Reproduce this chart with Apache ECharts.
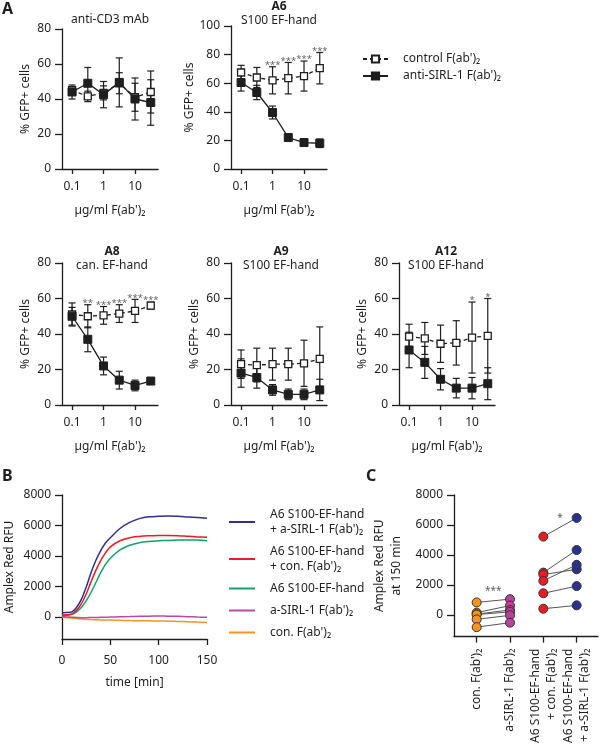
<!DOCTYPE html>
<html><head><meta charset="utf-8">
<script src="https://cdn.jsdelivr.net/npm/echarts@6/dist/echarts.min.js"></script>
<style>html,body{margin:0;padding:0;background:#fff}#c{width:600px;height:746px}</style>
</head><body><div id="c"></div>
<script>
// ---------- DATA ----------
const conc = [0.1, 0.316, 1, 3.16, 10, 31.6];
const concTicks = [0.1, 1, 10];
const concTickLabels = ['0.1', '1', '10'];
const ctrlName = "control F(ab')\u2082";
const sirlName = "anti-SIRL-1 F(ab')\u2082";

const a1Ctrl = [45, 41.5, 43.5, 49, 41, 44];
const a1CtrlSd = [2, 3, 4, 6, 8, 12];
const a1Sirl = [44, 49, 42.5, 49.5, 40, 38];
const a1SirlSd = [4, 9, 7.5, 14, 12, 13];

const a6Ctrl = [67.5, 64, 62, 63.5, 65, 70.5];
const a6CtrlSd = [5, 7, 9.5, 11, 10.5, 11];
const a6Sirl = [60.5, 53.5, 39.5, 22, 18.5, 18];
const a6SirlSd = [6, 5, 4.5, 1, 1.5, 3];
const a6Stars = ['', '', '***', '***', '***', '***'];

const a8Ctrl = [51, 50, 50.5, 51.5, 53, 56];
const a8CtrlSd = [6.5, 6.5, 5, 5, 6.5, 2];
const a8Sirl = [50, 37, 22, 14, 11, 13.5];
const a8SirlSd = [5, 7, 5, 5, 3, 1.5];
const a8Stars = ['', '**', '***', '***', '***', '***'];

const a9Ctrl = [23, 22.5, 23, 23, 23.5, 26];
const a9CtrlSd = [8, 9.5, 9, 9, 13, 18];
const a9Sirl = [18, 15.5, 8.5, 6, 6, 8.5];
const a9SirlSd = [8, 6, 3, 3, 3, 6];

const a12Ctrl = [38.5, 37.5, 34.5, 35, 38, 39];
const a12CtrlSd = [7, 9, 10.5, 12.5, 20, 21];
const a12Sirl = [31, 24, 14.5, 9.5, 9.5, 12];
const a12SirlSd = [10, 9, 6, 5.5, 6, 9];
const a12Stars = ['', '', '', '', '*', '*'];

// Panel B
const bTime = [0,5,10,15,20,25,30,35,40,45,50,60,70,80,90,100,110,120,130,140,150];
const bA6Sirl = [280,290,330,620,1150,1950,2900,3700,4350,4850,5200,5800,6200,6450,6570,6600,6620,6600,6560,6520,6470];
const bA6Con  = [130,140,200,430,850,1500,2300,3050,3700,4200,4600,5000,5200,5280,5320,5340,5350,5330,5290,5250,5220];
const bA6     = [100,110,150,330,620,1050,1600,2250,2900,3450,3850,4400,4700,4870,4950,4990,5020,5040,5050,5040,5000];
const bSirl   = [20,0,-20,-40,-50,-50,-45,-40,-30,-20,-10,10,25,40,50,55,50,35,15,-10,-30];
const bCon    = [-30,-50,-80,-110,-140,-160,-175,-185,-195,-205,-210,-225,-240,-250,-260,-270,-280,-295,-315,-340,-360];
const bNames = ["A6 S100-EF-hand\n+ a-SIRL-1 F(ab')\u2082", "A6 S100-EF-hand\n+ con. F(ab')\u2082", "A6 S100-EF-hand", "a-SIRL-1 F(ab')\u2082", "con. F(ab')\u2082"];
const rfuTicks = [0, 2000, 4000, 6000, 8000];
const timeTicks = [0, 50, 100, 150];

// Panel C
const cCategories = ["con. F(ab')\u2082", "a-SIRL-1 F(ab')\u2082", "A6 S100-EF-hand\n+ con. F(ab')\u2082", "A6 S100-EF-hand\n+ a-SIRL-1 F(ab')\u2082"];
const cConF   = [830, 150, 50, 20, -300, -820];
const cSirlF  = [1050, 620, 330, 200, -30, -520];
const cA6Con  = [5225, 2820, 2690, 2275, 1440, 410];
const cA6Sirl = [6470, 4330, 3040, 3340, 1920, 635];
const cStars = [[0.5, 1550, '***'], [2.5, 6450, '*']];

// ---------- STYLE / LAYOUT ----------
const FONT = 'Noto Sans';
const INK = '#1e1e1e';
const COL = {blue:'#2b3190', red:'#ec1c24', green:'#12a06a', purple:'#b54aa8', orange:'#f7941d'};
const lg = v => Math.log10(v);
const X_MIN = -1.32, X_MAX = 1.73;
const plain = v => String(v);

const panelsA = [
  {ctrl:a1Ctrl, ctrlSd:a1CtrlSd, sirl:a1Sirl, sirlSd:a1SirlSd, stars:null, yMax:80, grid:{left:62, top:29, width:96, height:140}},
  {ctrl:a6Ctrl, ctrlSd:a6CtrlSd, sirl:a6Sirl, sirlSd:a6SirlSd, stars:a6Stars, yMax:100, grid:{left:231, top:26, width:96, height:143}},
  {ctrl:a8Ctrl, ctrlSd:a8CtrlSd, sirl:a8Sirl, sirlSd:a8SirlSd, stars:a8Stars, yMax:80, grid:{left:62, top:263, width:96, height:142}},
  {ctrl:a9Ctrl, ctrlSd:a9CtrlSd, sirl:a9Sirl, sirlSd:a9SirlSd, stars:null, yMax:80, grid:{left:231, top:263, width:96, height:142}},
  {ctrl:a12Ctrl, ctrlSd:a12CtrlSd, sirl:a12Sirl, sirlSd:a12SirlSd, stars:a12Stars, yMax:80, grid:{left:399, top:263, width:96, height:142}}
];

const grids = [], xAxes = [], yAxes = [], series = [];
const txt = {fontFamily: FONT, fontSize: 12, color: INK};
const axLine = {show:true, onZero:false, lineStyle:{color:INK, width:1.3}};

function errRender(params, api) {
  const x = api.value(0), m = api.value(1), s = api.value(2);
  const t = api.coord([x, m + s]), b = api.coord([x, m - s]);
  const w = 3.5, st = {stroke: INK, lineWidth: 1.2};
  return {type:'group', children:[
    {type:'line', shape:{x1:t[0], y1:t[1], x2:b[0], y2:b[1]}, style:st},
    {type:'line', shape:{x1:t[0]-w, y1:t[1], x2:t[0]+w, y2:t[1]}, style:st},
    {type:'line', shape:{x1:b[0]-w, y1:b[1], x2:b[0]+w, y2:b[1]}, style:st}
  ]};
}

panelsA.forEach((p, i) => {
  grids.push(p.grid);
  xAxes.push({type:'value', gridIndex:i, min:X_MIN, max:X_MAX,
    name:"\u00b5g/ml F(ab')\u2082", nameLocation:'middle', nameGap:36, nameTextStyle:txt,
    axisLine:axLine, splitLine:{show:false},
    axisTick:{customValues:concTicks.map(lg), length:5, lineStyle:{color:INK, width:1.3}},
    axisLabel:{customValues:concTicks.map(lg), margin:12, ...txt,
      formatter: v => concTickLabels[concTicks.findIndex(c => Math.abs(lg(c) - v) < 1e-6)]}
  });
  yAxes.push({type:'value', gridIndex:i, min:0, max:p.yMax, interval:20,
    name:'% GFP+ cells', nameLocation:'middle', nameGap:30, nameRotate:90, nameTextStyle:txt,
    axisLine:axLine, splitLine:{show:false},
    axisTick:{length:7, lineStyle:{color:INK, width:1.3}},
    axisLabel:{margin:11, ...txt}
  });
  const errData = [];
  conc.forEach((c, k) => { errData.push([lg(c), p.ctrl[k], p.ctrlSd[k]]); errData.push([lg(c), p.sirl[k], p.sirlSd[k]]); });
  series.push({type:'custom', xAxisIndex:i, yAxisIndex:i, renderItem:errRender, data:errData, z:1, silent:true});
  series.push({type:'line', name:ctrlName, xAxisIndex:i, yAxisIndex:i, z:3,
    data: conc.map((c, k) => [lg(c), p.ctrl[k]]),
    symbol:'rect', symbolSize:7, showSymbol:true,
    lineStyle:{color:INK, width:1.3, type:[4,3]},
    itemStyle:{color:'#fff', borderColor:INK, borderWidth:1.3}});
  series.push({type:'line', name:sirlName, xAxisIndex:i, yAxisIndex:i, z:4,
    data: conc.map((c, k) => [lg(c), p.sirl[k]]),
    symbol:'rect', symbolSize:8,
    lineStyle:{color:INK, width:1.3},
    itemStyle:{color:INK, borderColor:INK, borderWidth:1}});
  if (p.stars) {
    const sd = [];
    conc.forEach((c, k) => { if (p.stars[k]) sd.push([lg(c), Math.max(p.ctrl[k] + p.ctrlSd[k], p.sirl[k] + p.sirlSd[k]), p.stars[k]]); });
    series.push({type:'scatter', xAxisIndex:i, yAxisIndex:i, data:sd, symbolSize:1, itemStyle:{color:'rgba(0,0,0,0)'}, silent:true, z:5,
      label:{show:true, position:'top', distance:-4, formatter: q => q.value[2], fontFamily:FONT, fontSize:9.5, color:'#333'}});
  }
});

// Panel B (grid 5)
grids.push({left:62, top:495, width:145, height:144});
xAxes.push({type:'value', gridIndex:5, min:0, max:150,
  name:'time [min]', nameLocation:'middle', nameGap:38, nameTextStyle:txt,
  axisLine:axLine, splitLine:{show:false},
  axisTick:{customValues:timeTicks, length:6, lineStyle:{color:INK, width:1.3}},
  axisLabel:{customValues:timeTicks, margin:16, ...txt, formatter:plain}});
yAxes.push({type:'value', gridIndex:5, min:-1450, max:8000,
  name:'Amplex Red RFU', nameLocation:'middle', nameGap:46, nameRotate:90, nameTextStyle:txt,
  axisLine:axLine, splitLine:{show:false},
  axisTick:{customValues:rfuTicks, length:7, lineStyle:{color:INK, width:1.3}},
  axisLabel:{customValues:rfuTicks, margin:11, ...txt, formatter:plain}});
const bSeries = [bA6Sirl, bA6Con, bA6, bSirl, bCon];
const bColors = [COL.blue, COL.red, COL.green, COL.purple, COL.orange];
bSeries.forEach((arr, k) => {
  series.push({type:'line', name:bNames[k], xAxisIndex:5, yAxisIndex:5, symbol:'none', smooth:0.35,
    data: bTime.map((t, j) => [t, arr[j]]), lineStyle:{color:bColors[k], width:1.5}, itemStyle:{color:bColors[k]}, z:2 + (4 - k)});
});

// Panel C (grid 6)
grids.push({left:454, top:495, width:144, height:144});
xAxes.push({type:'value', gridIndex:6, min:-0.68, max:3.64,
  axisLine:axLine, splitLine:{show:false},
  axisTick:{customValues:[0,1,2,3], length:6, lineStyle:{color:INK, width:1.3}},
  axisLabel:{customValues:[0,1,2,3], rotate:90, margin:12, ...txt, lineHeight:16, hideOverlap:false, showMaxLabel:true, showMinLabel:true,
    formatter: v => cCategories[Math.round(v)]}});
yAxes.push({type:'value', gridIndex:6, min:-1450, max:8000,
  name:'Amplex Red RFU\nat 150 min', nameLocation:'middle', nameGap:49, nameRotate:90, nameTextStyle:{...txt, lineHeight:17},
  axisLine:axLine, splitLine:{show:false},
  axisTick:{customValues:rfuTicks, length:7, lineStyle:{color:INK, width:1.3}},
  axisLabel:{customValues:rfuTicks, margin:11, ...txt, formatter:plain}});
const pairData = [];
cConF.forEach((v, k) => pairData.push([0, v, 1, cSirlF[k]]));
cA6Con.forEach((v, k) => pairData.push([2, v, 3, cA6Sirl[k]]));
series.push({type:'custom', xAxisIndex:6, yAxisIndex:6, z:1, silent:true, data:pairData,
  encode:{x:[0,2], y:[1,3]},
  renderItem:(params, api) => {
    const a = api.coord([api.value(0), api.value(1)]), b = api.coord([api.value(2), api.value(3)]);
    return {type:'line', shape:{x1:a[0], y1:a[1], x2:b[0], y2:b[1]}, style:{stroke:'#555', lineWidth:1}};
  }});
[[cConF, COL.orange], [cSirlF, '#b8439c'], [cA6Con, COL.red], [cA6Sirl, '#2b3190']].forEach(([arr, col], k) => {
  series.push({type:'scatter', xAxisIndex:6, yAxisIndex:6, z:3, symbolSize:9,
    data: arr.map(v => [k, v]), itemStyle:{color:col, borderColor:'#333', borderWidth:1, opacity:1}});
});
series.push({type:'scatter', xAxisIndex:6, yAxisIndex:6, z:4, symbolSize:1, itemStyle:{color:'rgba(0,0,0,0)'}, silent:true,
  data:cStars, label:{show:true, position:'inside', formatter:q => q.value[2], fontFamily:FONT, fontSize:10, color:'#333'}});

const chart = echarts.init(document.getElementById('c'), null, {renderer:'canvas'});
chart.setOption({
  animation:false,
  backgroundColor:'#fff',
  grid:grids, xAxis:xAxes, yAxis:yAxes, series:series,
  legend:[
    {data:[ctrlName, sirlName], orient:'vertical', left:357, top:48, itemWidth:25, itemHeight:9, itemGap:5,
      textStyle:{...txt, padding:[0,0,0,10]}, selectedMode:false},
    {data:bNames.map(n => ({name:n, icon:'rect'})), orient:'vertical', left:224, top:502, itemWidth:26, itemHeight:2, itemGap:7,
      textStyle:{...txt, lineHeight:15, padding:[0,0,0,10]}, selectedMode:false}
  ],
  graphic:[
    {type:'text', left:2, top:1, style:{text:'A', font:'bold 16px "Noto Sans"', fill:INK}},
    {type:'text', left:2, top:468, style:{text:'B', font:'bold 16px "Noto Sans"', fill:INK}},
    {type:'text', left:366, top:468, style:{text:'C', font:'bold 16px "Noto Sans"', fill:INK}},
    {type:'text', x:110, y:20, style:{text:'anti-CD3 mAb', font:'12px "Noto Sans"', fill:INK, align:'center', verticalAlign:'middle'}},
    {type:'text', x:279, y:7, style:{text:'A6', font:'bold 12px "Noto Sans"', fill:INK, align:'center', verticalAlign:'middle'}},
    {type:'text', x:279, y:21, style:{text:'S100 EF-hand', font:'12px "Noto Sans"', fill:INK, align:'center', verticalAlign:'middle'}},
    {type:'text', x:112, y:252, style:{text:'A8', font:'bold 12px "Noto Sans"', fill:INK, align:'center', verticalAlign:'middle'}},
    {type:'text', x:112, y:266, style:{text:'can. EF-hand', font:'12px "Noto Sans"', fill:INK, align:'center', verticalAlign:'middle'}},
    {type:'text', x:281, y:252, style:{text:'A9', font:'bold 12px "Noto Sans"', fill:INK, align:'center', verticalAlign:'middle'}},
    {type:'text', x:281, y:266, style:{text:'S100 EF-hand', font:'12px "Noto Sans"', fill:INK, align:'center', verticalAlign:'middle'}},
    {type:'text', x:446, y:252, style:{text:'A12', font:'bold 12px "Noto Sans"', fill:INK, align:'center', verticalAlign:'middle'}},
    {type:'text', x:446, y:266, style:{text:'S100 EF-hand', font:'12px "Noto Sans"', fill:INK, align:'center', verticalAlign:'middle'}}
  ]
});
</script></body></html>
